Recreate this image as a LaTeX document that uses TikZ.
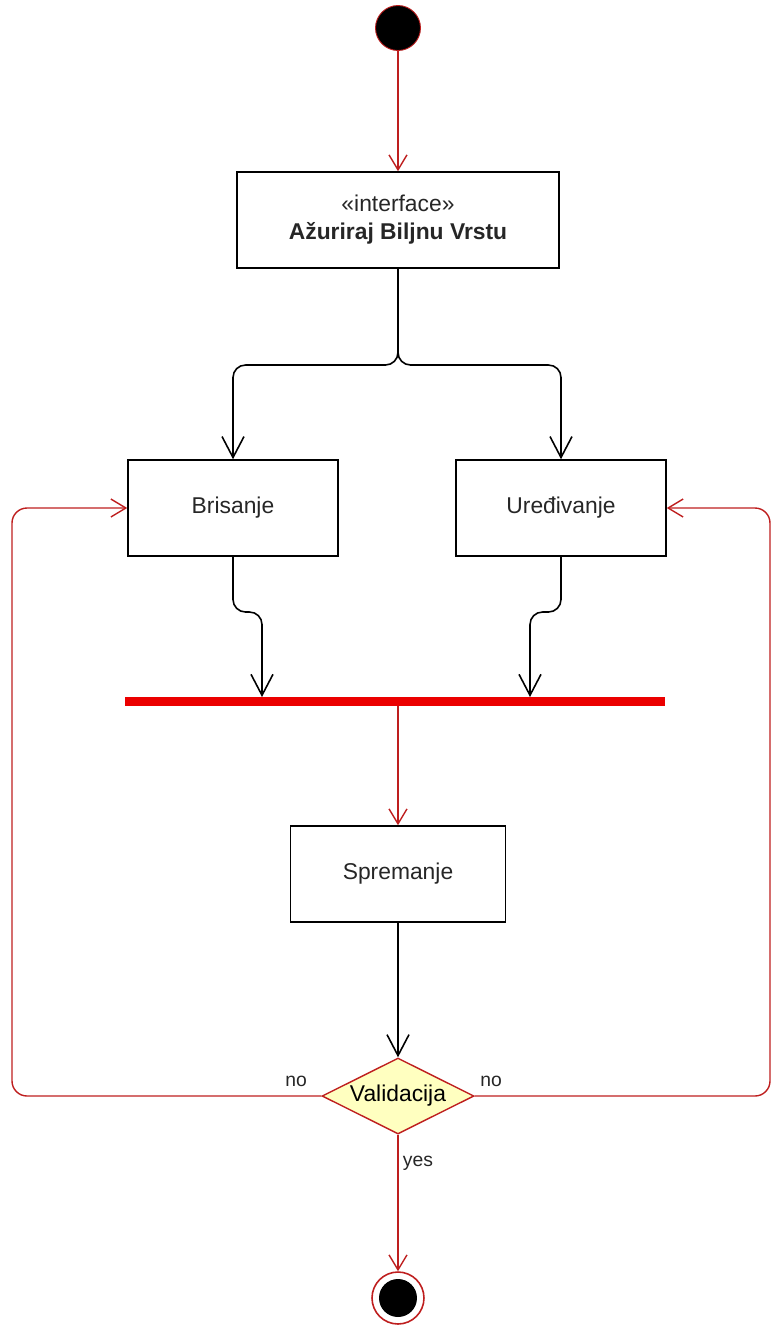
\documentclass[tikz,border=0pt]{standalone}
\usepackage{fontspec}
\setmainfont{Liberation Sans}
\usetikzlibrary{arrows.meta,shapes.geometric}

\definecolor{umlred}{RGB}{190,30,30}
\definecolor{barred}{RGB}{235,0,0}
\definecolor{decfill}{RGB}{255,255,192}

\tikzset{
  act/.style={draw, line width=0.9pt, minimum width=4.2cm, minimum height=1.92cm,
    font=\fontsize{13}{16}\selectfont, text=black!85},
  redflow/.style={draw=umlred, line width=0.8pt, rounded corners=0.3cm,
    -{Straight Barb[length=0.3cm,width=0.36cm]}},
  blackflow/.style={line width=0.9pt, rounded corners=0.25cm,
    -{Straight Barb[length=0.42cm,width=0.44cm]}},
  lbl/.style={font=\fontsize{11}{13}\selectfont, inner sep=0pt, text=black!85}
}

\begin{document}
\begin{tikzpicture}[x=0.02cm, y=-0.02cm]
\useasboundingbox (0,0) rectangle (774,1326);

% start and end
\node[circle, draw=umlred, fill=black, line width=0.5pt, minimum size=0.9cm, inner sep=0pt] (start) at (398,28) {};
\node[circle, draw=umlred, line width=0.9pt, minimum size=1.04cm, inner sep=0pt] (stop) at (398,1298) {};
\node[circle, fill=black, minimum size=0.76cm, inner sep=0pt] (stopdot) at (stop) {};

% activities
\node[act, minimum width=6.44cm] (iface) at (398,220) {\begin{tabular}{c}«interface»\\\textbf{Ažuriraj Biljnu Vrstu}\end{tabular}};
\node[act] (bris) at (233,508) {Brisanje};
\node[act] (ured) at (561,508) {Uređivanje};
\node[act, minimum width=4.3cm] (sprem) at (398,874) {Spremanje};

% join bar
\node[fill=barred, minimum width=10.8cm, minimum height=0.18cm, inner sep=0pt] (bar) at (395,701) {};

% decision
\node[diamond, draw=umlred, fill=decfill, line width=0.8pt, aspect=2, inner sep=0pt,
  minimum width=3.04cm, minimum height=1.52cm, font=\fontsize{13}{16}\selectfont] (val) at (398,1096) {Validacija};

\node[lbl] (noL) at (296,1081) {no};
\node[lbl] (noR) at (491,1081) {no};
\node[lbl] (yes) at (418,1163) {yes};

\coordinate (fork) at (398,365);
\coordinate (stepL) at (233,612);
\coordinate (stepR) at (561,612);
\coordinate (joinL) at (262,697);
\coordinate (joinR) at (530,697);
\coordinate (loopL) at (12,1096);
\coordinate (loopR) at (770,1096);

\draw[redflow] (start) -- (iface);
\draw[blackflow] (iface.south) -- (fork) -| (bris.north);
\draw[blackflow] (iface.south) -- (fork) -| (ured.north);
\draw[blackflow] (bris.south) -- (stepL) -| (joinL);
\draw[blackflow] (ured.south) -- (stepR) -| (joinR);
\draw[redflow] (bar.south -| sprem.north) -- (sprem.north);
\draw[blackflow] (sprem) -- (val);
\draw[redflow] (val.west) -- (loopL) |- (bris.west);
\draw[redflow] (val.east) -- (loopR) |- (ured.east);
\draw[redflow] (val) -- (stop);
\end{tikzpicture}
\end{document}
